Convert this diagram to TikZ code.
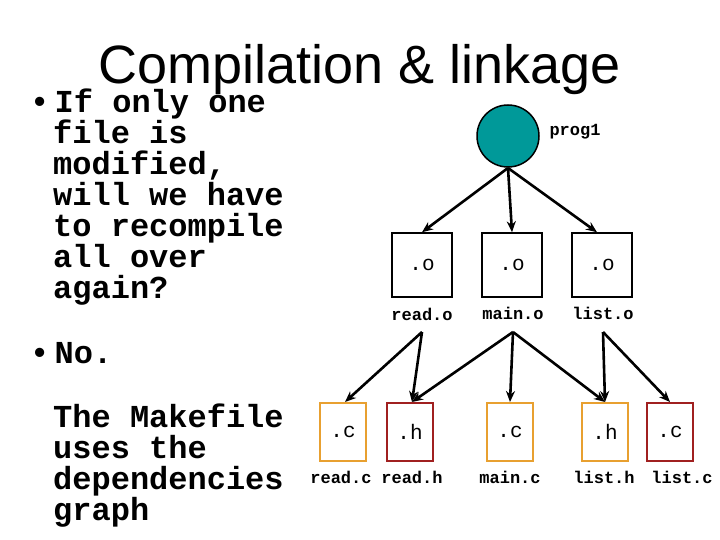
\documentclass[tikz,border=0pt]{standalone}
\usepackage{fontspec}
\setmainfont{Liberation Sans}
\newfontfamily\cour{Liberation Mono}
\usetikzlibrary{arrows.meta}
\definecolor{teal1}{HTML}{009999}
\definecolor{orng}{HTML}{E8A030}
\definecolor{dred}{HTML}{A02020}
\begin{document}
\begin{tikzpicture}[x=1pt,y=-1pt,
  obox/.style={draw,line width=1.5pt,minimum width=60pt,minimum height=64pt,font=\cour\fontsize{21}{21}\selectfont},
  sbox/.style={draw,line width=2pt,minimum width=46pt,minimum height=58pt,font=\cour\fontsize{21}{21}\selectfont},
  lbl/.style={font=\cour\bfseries\fontsize{17}{17}\selectfont},
  arr/.style={-{Stealth[length=11pt,width=9pt]},line width=2.6pt},
  body/.style={font=\cour\bfseries\fontsize{32}{31}\selectfont,align=left,anchor=north west,inner sep=0}]
\useasboundingbox (0,0) rectangle (720,540);
\node (title) at (360,70) {\fontsize{54}{54}\selectfont Compilation \& linkage};
\node[body] (b1) at (30,89) {•\,If only one};
\node[body] (t1) at (53,120) {file is\\modified,\\will we have\\to recompile\\all over\\again?};
\node[body] (b2) at (30,342) {•\,No.};
\node[body] (t2) at (53,404) {The Makefile\\uses the\\dependencies\\graph};
\node[circle,draw,line width=1.5pt,fill=teal1,minimum size=62pt] (p) at (508,136) {};
\node[lbl,anchor=west] (pl) at (546,132) {prog1};
\node[obox] (ro) at (422,265) {.o};
\node[obox] (mo) at (512,265) {.o};
\node[obox] (lo) at (602,265) {.o};
\node[lbl] (rol) at (422,314) {read.o};
\node[lbl] (mol) at (513,313) {main.o};
\node[lbl] (lol) at (603,313) {list.o};
\node[sbox,draw=orng] (rc) at (343,432) {.c};
\node[sbox,draw=dred] (rh) at (410,432) {.h};
\node[sbox,draw=orng] (mc) at (510,432) {.c};
\node[sbox,draw=orng] (lh) at (605,432) {.h};
\node[sbox,draw=dred] (lc) at (670,432) {.c};
\node[lbl] (rcl) at (341,477) {read.c};
\node[lbl] (rhl) at (412,477) {read.h};
\node[lbl] (mcl) at (510,477) {main.c};
\node[lbl] (lhl) at (604,477) {list.h};
\node[lbl] (lcl) at (682,477) {list.c};
\coordinate (pb) at (508,168);
\draw[arr] (pb) -- (ro.north);
\draw[arr] (pb) -- (mo.north);
\draw[arr] (pb) -- ([xshift=-5pt]lo.north);
\coordinate (r1) at (422,332);
\coordinate (m1) at (513,332);
\coordinate (l1) at (603,332);
\draw[arr] (r1) -- ([xshift=2pt]rc.north);
\draw[arr] (r1) -- ([xshift=2pt]rh.north);
\draw[arr] (m1) -- ([xshift=2pt]rh.north);
\draw[arr] (m1) -- (mc.north);
\draw[arr] (m1) -- (lh.north);
\draw[arr] (l1) -- (lh.north);
\draw[arr] (l1) -- (lc.north);
\end{tikzpicture}
\end{document}
